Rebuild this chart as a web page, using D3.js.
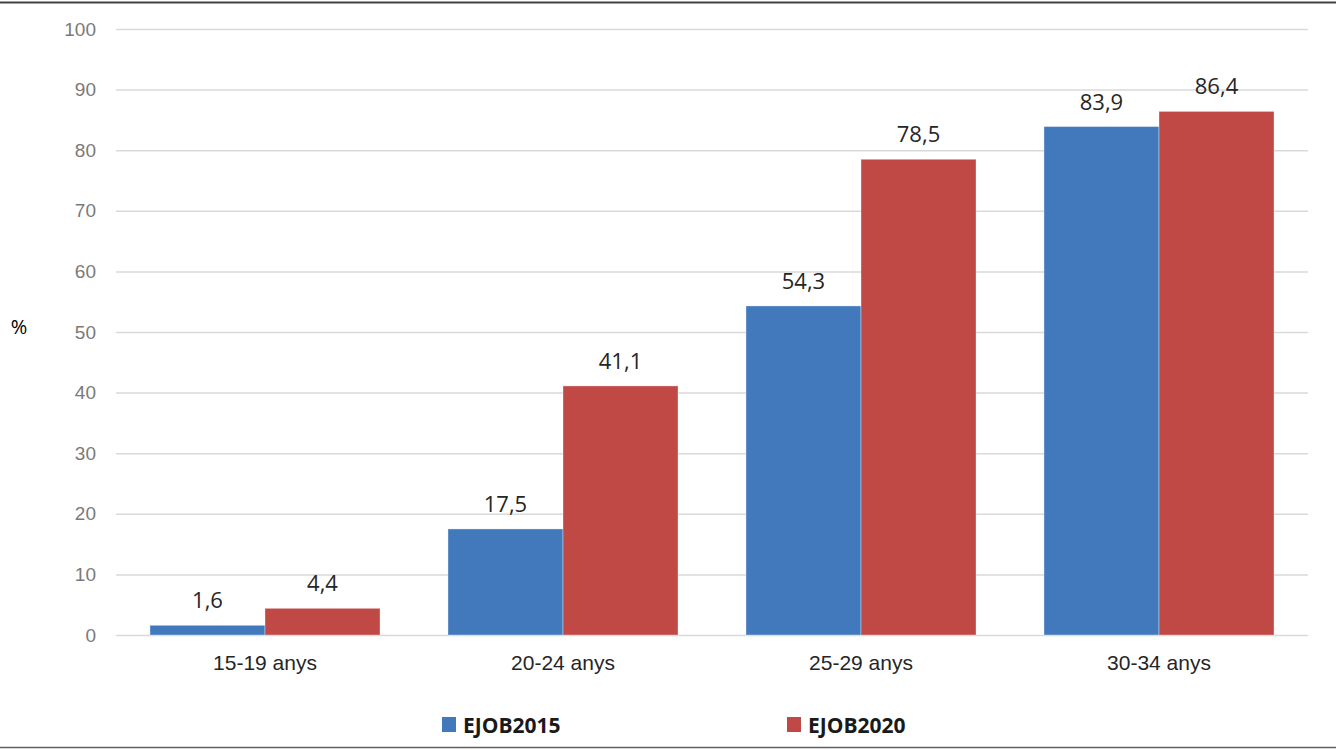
<!DOCTYPE html>
<html>
<head>
<meta charset="utf-8">
<script src="https://cdn.jsdelivr.net/npm/d3@7"></script>
<style>
  body { margin: 0; background: #fff; }
  svg { display: block; font-family: "Open Sans", "Liberation Sans", sans-serif; }
</style>
</head>
<body>
<div class="chart"></div>
<script>
// Age groups and series values (%)
var categories = ["15-19 anys", "20-24 anys", "25-29 anys", "30-34 anys"];
var seriesNames = ["EJOB2015", "EJOB2020"];
var values2015 = [1.6, 17.5, 54.3, 83.9];
var values2020 = [4.4, 41.1, 78.5, 86.4];
var yTicks = [0, 10, 20, 30, 40, 50, 60, 70, 80, 90, 100];

var colors = ["#4279bd", "#c04845"];

var svgWidth = 1336;
var svgHeight = 750;

var margin = { top: 29, right: 28, bottom: 115, left: 116 };
var width = svgWidth - margin.left - margin.right;
var height = svgHeight - margin.top - margin.bottom;

var svg = d3.select(".chart")
    .append("svg")
    .attr("width", svgWidth)
    .attr("height", svgHeight);

// frame lines top and bottom
svg.append("line")
    .attr("x1", 0).attr("x2", svgWidth)
    .attr("y1", 2.5).attr("y2", 2.5)
    .attr("stroke", "#404040").attr("stroke-width", 2);
svg.append("line")
    .attr("x1", 0).attr("x2", svgWidth)
    .attr("y1", 747.5).attr("y2", 747.5)
    .attr("stroke", "#606060").attr("stroke-width", 1.5);

var chart = svg.append("g")
    .attr("transform", "translate(" + margin.left + "," + margin.top + ")");

var x0 = d3.scaleBand()
    .domain(categories)
    .range([0, width])
    .paddingInner(0.228)
    .paddingOuter(0.114);

var x1 = d3.scaleBand()
    .domain(seriesNames)
    .range([0, x0.bandwidth()]);

var y = d3.scaleLinear()
    .domain([0, 100])
    .range([height, 0]);

// gridlines + y labels
var leftAxis = d3.axisLeft(y)
    .tickValues(yTicks)
    .tickSize(-width)
    .tickPadding(20)
    .tickFormat(d3.format("d"));

var yAxis = chart.append("g").call(leftAxis);
yAxis.select(".domain").remove();
yAxis.selectAll(".tick line")
    .attr("stroke", "#d9d9d9")
    .attr("stroke-width", 1.5);
yAxis.selectAll(".tick text")
    .attr("fill", "#7a7a7a")
    .style("font-size", "19px");

var data = categories.map(function(c, i) {
    return { cat: c, vals: [values2015[i], values2020[i]] };
});

var groups = chart.selectAll(".grp")
    .data(data)
    .enter()
    .append("g")
    .attr("transform", function(d) { return "translate(" + x0(d.cat) + ",0)"; });

groups.selectAll("rect")
    .data(function(d) {
        return d.vals.map(function(v, j) { return { name: seriesNames[j], v: v, j: j }; });
    })
    .enter()
    .append("rect")
    .attr("x", function(d) { return x1(d.name); })
    .attr("y", function(d) { return y(d.v); })
    .attr("width", x1.bandwidth())
    .attr("height", function(d) { return height - y(d.v); })
    .attr("fill", function(d) { return colors[d.j]; })
    .attr("stroke", "rgba(255,255,255,0.35)")
    .attr("stroke-width", 1);

// value labels
groups.selectAll("text")
    .data(function(d) {
        return d.vals.map(function(v, j) { return { name: seriesNames[j], v: v }; });
    })
    .enter()
    .append("text")
    .attr("x", function(d) { return x1(d.name) + x1.bandwidth() / 2; })
    .attr("y", function(d) { return y(d.v) - 17; })
    .attr("text-anchor", "middle")
    .attr("fill", "#262626")
    .style("font-size", "22px")
    .text(function(d) { return d3.format(".1f")(d.v).replace(".", ","); });

// x category labels
var bottomAxis = d3.axisBottom(x0).tickSize(0).tickPadding(20);
var xAxis = chart.append("g")
    .attr("transform", "translate(0," + height + ")")
    .call(bottomAxis);
xAxis.select(".domain").remove();
xAxis.selectAll(".tick text")
    .attr("fill", "#262626")
    .style("font-size", "21px");

// y axis title
svg.append("text")
    .attr("x", 19)
    .attr("y", 334)
    .attr("text-anchor", "middle")
    .attr("fill", "#000")
    .style("font-size", "20px")
    .text("%");

// legend
var legendX = [442, 787];
var legend = svg.selectAll(".legend")
    .data(seriesNames)
    .enter()
    .append("g")
    .attr("transform", function(d, i) { return "translate(" + legendX[i] + ",717)"; });

legend.append("rect")
    .attr("width", 14)
    .attr("height", 15)
    .attr("fill", function(d, i) { return colors[i]; });

legend.append("text")
    .attr("x", 21)
    .attr("y", 16)
    .attr("fill", "#1a1a1a")
    .style("font-size", "21px")
    .style("font-weight", "bold")
    .text(function(d) { return d; });
</script>
</body>
</html>
